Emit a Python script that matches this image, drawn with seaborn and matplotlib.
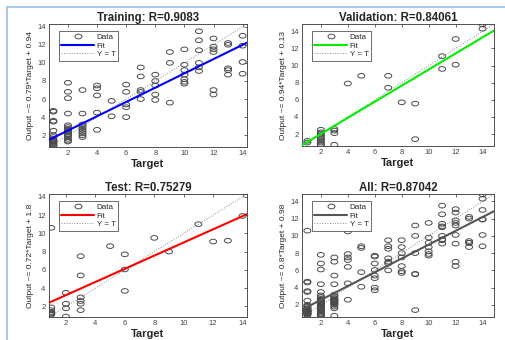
import matplotlib
matplotlib.use("Agg")
import numpy as np
import pandas as pd
import seaborn as sns
import matplotlib.pyplot as plt
from matplotlib.path import Path
from matplotlib.transforms import Affine2D
from matplotlib.lines import Line2D

# ---------------- data ----------------
train_levels = [1, 2, 3, 4, 5, 6, 7, 8, 9, 10, 11, 12, 13, 14]
train_outputs = [
    [4.7, 4.6, 3.6, 3.5, 2.5, 2.0, 1.8, 1.6, 1.5, 1.4, 1.3, 1.2, 1.1, 1.0, 0.9, 0.8],
    [7.8, 6.8, 6.1, 4.4, 3.1, 2.9, 2.7, 2.6, 2.5, 2.4, 2.3, 2.1, 2.0, 1.8, 1.6, 1.4, 1.3],
    [7.0, 4.4, 3.2, 3.0, 2.8, 2.6, 2.4, 2.2, 2.0, 1.8],
    [7.5, 7.2, 6.4, 4.5, 2.6],
    [5.8, 4.1],
    [7.6, 6.8, 5.4, 5.1, 4.0],
    [9.5, 8.5, 7.0, 6.8, 6.0],
    [8.7, 8.0, 7.5, 6.5, 5.9],
    [11.2, 10.0, 5.6],
    [11.5, 9.8, 9.2, 8.7, 8.2, 7.9, 7.7],
    [13.5, 12.5, 11.4, 10.0, 9.5, 9.1],
    [12.7, 11.8, 11.5, 11.2, 7.0, 6.5],
    [12.2, 12.0, 9.4, 9.2, 8.7],
    [13.0, 11.9, 10.1, 8.8],
]
val_levels = [1, 2, 3, 4, 5, 7, 8, 9, 11, 12, 14]
val_outputs = [
    [1.2, 1.0],
    [2.5, 2.2, 2.0, 1.8, 1.6, 1.4, 1.2, 1.0, 0.8, 0.7],
    [2.6, 2.4, 2.1, 0.75],
    [7.9],
    [8.8],
    [8.8, 7.4],
    [5.7],
    [5.55, 1.4],
    [11.1, 9.6],
    [13.1, 10.1],
    [14.8, 14.3],
]
test_levels = [1, 2, 3, 5, 6, 8, 9, 11, 12, 13, 14]
test_outputs = [
    [10.6, 1.9, 1.6, 1.4, 1.3, 1.2, 1.1],
    [3.5, 2.3, 1.8, 0.9],
    [7.5, 5.4, 3.0, 2.6, 2.3, 1.6],
    [8.6],
    [7.7, 6.05, 3.7],
    [9.5],
    [8.0],
    [11.0],
    [9.1],
    [9.2],
    [11.9],
]
all_extra_levels = [4]
all_extra_outputs = [[10.5]]

titles = ["Training: R=0.9083", "Validation: R=0.84061", "Test: R=0.75279", "All: R=0.87042"]
ylabels = ["Output ~= 0.79*Target + 0.94", "Output ~= 0.94*Target + 0.13",
           "Output ~= 0.72*Target + 1.8", "Output ~= 0.8*Target + 0.98"]
fit_slopes = [0.79, 0.94, 0.72, 0.8]
fit_intercepts = [0.94, 0.13, 1.8, 0.98]
fit_colors = ["#0000ff", "#00ee00", "#ff0000", "#555555"]
lims = [(0.7, 14.3), (0.6, 14.85), (0.85, 14.3), (0.6, 14.85)]
ticks = [2, 4, 6, 8, 10, 12, 14]


def expand(levels, outputs):
    rows = []
    for lv, outs in zip(levels, outputs):
        for o in outs:
            rows.append((lv, o))
    return pd.DataFrame(rows, columns=["Target", "Output"])


df_train = expand(train_levels, train_outputs)
df_val = expand(val_levels, val_outputs)
df_test = expand(test_levels, test_outputs)
df_all = pd.concat([df_train, df_val, df_test, expand(all_extra_levels, all_extra_outputs)],
                   ignore_index=True)
frames = [df_train, df_val, df_test, df_all]

# ---------------- style ----------------
sns.set_theme(style="white")
plt.rcParams["font.family"] = ["Liberation Sans", "DejaVu Sans"]

ellipse = Path.unit_circle().transformed(Affine2D().scale(1.5, 1.0))
marker_col = "#4a4a4a"

fig = plt.figure(figsize=(5.06, 3.40), dpi=100)
fig.patch.set_facecolor("white")

W, H = 506.0, 340.0
boxes = [(49, 24, 247, 147), (302, 24, 494, 146), (49, 194, 247, 317), (302, 194, 494, 317)]

for i, (l, t, r, b) in enumerate(boxes):
    ax = fig.add_axes([l / W, 1 - b / H, (r - l) / W, (b - t) / H])
    lo, hi = lims[i]
    df = frames[i]
    sns.scatterplot(data=df, x="Target", y="Output", marker=ellipse, s=25,
                    facecolor="none", edgecolor=marker_col, linewidth=0.7,
                    ax=ax, legend=False, zorder=3)
    xs = np.array([lo, hi])
    sns.lineplot(x=xs, y=fit_slopes[i] * xs + fit_intercepts[i], color=fit_colors[i],
                 linewidth=1.5, ax=ax, zorder=4)
    sns.lineplot(x=xs, y=xs, color="#8a8a8a", linestyle=":", linewidth=0.7, ax=ax, zorder=2)
    ax.set_xlim(lo, hi)
    ax.set_ylim(lo, hi)
    ax.set_xticks(ticks)
    ax.set_yticks(ticks)
    ax.tick_params(direction="in", length=2, width=0.5, top=True, right=True,
                   labelsize=5.5, pad=2.5, colors="#333333", labelcolor="#444444")
    for sp in ax.spines.values():
        sp.set_color("#333333")
        sp.set_linewidth(0.6)
    ax.set_title(titles[i], fontsize=8.3, fontweight="bold", pad=2.5)
    ax.set_xlabel("Target", fontsize=8, fontweight="bold", labelpad=1)
    ax.set_ylabel(ylabels[i], fontsize=6, labelpad=2)

    handles = [
        Line2D([], [], marker=ellipse, ls="none", mfc="none", mec=marker_col, ms=5, mew=0.7),
        Line2D([], [], color=fit_colors[i], lw=1.5),
        Line2D([], [], color="#8a8a8a", ls=":", lw=0.7),
    ]
    leg = ax.legend(handles, ["Data", "Fit", "Y = T"], loc="upper left",
                    bbox_to_anchor=(10 / (r - l), 1 - 7 / (b - t)), borderaxespad=0,
                    fontsize=5.8, frameon=True, fancybox=False, edgecolor="#333333",
                    handlelength=4.0, labelspacing=0.12, borderpad=0.3,
                    handletextpad=0.4, framealpha=1)
    leg.get_frame().set_linewidth(0.5)

# light blue frame of the screenshot
fig.add_artist(Line2D([7 / W, 1], [1 - 7 / H, 1 - 7 / H], transform=fig.transFigure,
                      color="#a9c9ec", lw=1.5))
fig.add_artist(Line2D([7 / W, 7 / W], [0, 1 - 7 / H], transform=fig.transFigure,
                      color="#a9c9ec", lw=1.5))

fig.savefig("out.png", dpi=100, facecolor="white")
